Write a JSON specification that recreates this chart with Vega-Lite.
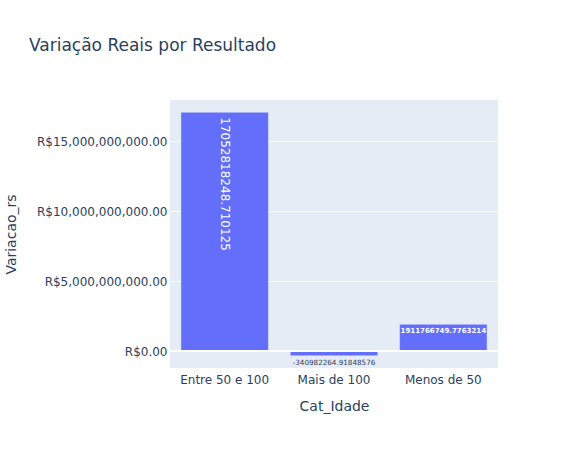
{
  "$schema": "https://vega.github.io/schema/vega-lite/v6.json",
  "width": 328,
  "height": 268,
  "autosize": "none",
  "padding": {"left": 170, "top": 100, "right": 81, "bottom": 82},
  "background": "white",
  "config": {
    "font": "DejaVu Sans",
    "view": {"fill": "#E5ECF6", "stroke": null},
    "axis": {"labelColor": "#2a3f5f", "titleColor": "#2a3f5f", "labelFontSize": 12, "titleFontSize": 14, "titleFontWeight": "normal", "domain": false, "ticks": false, "gridColor": "white", "gridWidth": 1}
  },
  "title": {"text": "Variação Reais por Resultado", "anchor": "start", "frame": "group", "dx": -141, "offset": 45, "fontSize": 17, "fontWeight": "normal", "color": "#2a3f5f"},
  "data": {"values": [
    {"Cat_Idade": "Entre 50 e 100", "Variacao_rs": 17052818248.710125, "label": "17052818248.710125"},
    {"Cat_Idade": "Mais de 100", "Variacao_rs": -340982264.91848576, "label": "-340982264.91848576"},
    {"Cat_Idade": "Menos de 50", "Variacao_rs": 1911766749.7763214, "label": "1911766749.7763214"}
  ]},
  "encoding": {
    "x": {"field": "Cat_Idade", "type": "nominal", "title": "Cat_Idade", "scale": {"paddingInner": 0.2, "paddingOuter": 0.1},
      "axis": {"labelAngle": 0, "labelPadding": 6, "titlePadding": 14, "grid": false}},
    "y": {"field": "Variacao_rs", "type": "quantitative", "title": "Variacao_rs", "scale": {"domain": [-1214000000, 17930000000], "nice": false, "zero": false},
      "axis": {"values": [0, 5000000000, 10000000000, 15000000000], "labelExpr": "'R$' + format(datum.value, ',.2f')", "labelPadding": 3, "titlePadding": 18}}
  },
  "layer": [
    {"mark": {"type": "bar", "color": "#636efa", "stroke": "#E5ECF6", "strokeWidth": 0.5}},
    {"data": {"values": [{"z": 0}]}, "mark": {"type": "rule", "color": "white", "strokeWidth": 2},
      "encoding": {"x": null, "y": {"field": "z", "type": "quantitative"}}},
    {"transform": [{"filter": "datum.Cat_Idade == 'Entre 50 e 100'"}],
      "mark": {"type": "text", "angle": 90, "align": "left", "baseline": "middle", "dx": 5, "fontSize": 12, "color": "white"},
      "encoding": {"text": {"field": "label"}}},
    {"transform": [{"filter": "datum.Cat_Idade == 'Mais de 100'"}],
      "mark": {"type": "text", "align": "center", "baseline": "top", "dy": 3, "fontSize": 7.2, "color": "#2a3f5f"},
      "encoding": {"text": {"field": "label"}}},
    {"transform": [{"filter": "datum.Cat_Idade == 'Menos de 50'"}],
      "mark": {"type": "text", "align": "center", "baseline": "top", "dy": 3, "fontSize": 7, "fontWeight": "bold", "color": "white"},
      "encoding": {"text": {"field": "label"}}}
  ]
}
